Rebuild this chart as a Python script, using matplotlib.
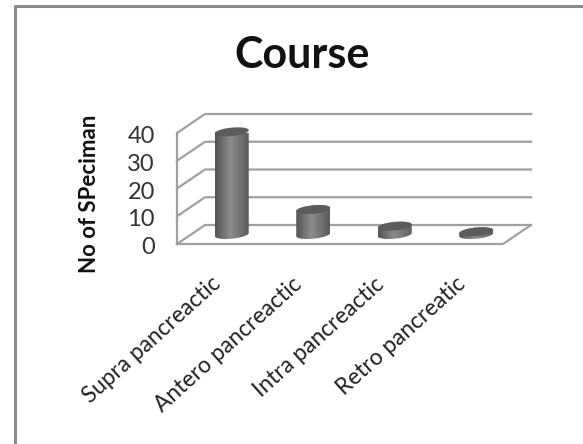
import numpy as np
import matplotlib
matplotlib.use('Agg')
import matplotlib.pyplot as plt
from matplotlib.patches import Polygon
from matplotlib.transforms import ScaledTranslation

categorias = ['Supra pancreactic', 'Antero pancreactic', 'Intra pancreactic', 'Retro pancreatic']
valores = [37, 9, 3, 1]
ticks_y = [0, 10, 20, 30, 40]

W, H = 583, 444
# parede frontal em pixels
esq, dir_, topo, base = 177, 503, 133, 244
# deslocamento da profundidade em unidades dos dados
dx = 28 / (dir_ - esq) * 4
dy = 19 / (base - topo) * 40

cor_grade = '#a0a0a0'

plt.rcParams['font.family'] = ['Lato', 'DejaVu Sans']
fig = plt.figure(figsize=(W / 100, H / 100), dpi=100)

# borda externa da figura (so esquerda e topo)
fig.add_artist(plt.Line2D([15 / W, 15 / W, 1], [0, 1 - 6 / H, 1 - 6 / H], color='#8c8c8c', lw=2.2))

ax = fig.add_axes([esq / W, 1 - base / H, (dir_ - esq) / W, (base - topo) / H])
ax.set_xlim(0, 4)
ax.set_ylim(0, 40)
ax.patch.set_visible(False)
for s in ax.spines.values():
    s.set_visible(False)

# grade da parede e do chao
for t in ticks_y:
    ax.plot([0, dx, 4 + dx], [t, t + dy, t + dy], color=cor_grade, lw=1.6, clip_on=False, zorder=1)
ax.plot([0, 0], [0, 40], color=cor_grade, lw=1.6, clip_on=False, zorder=1)
ax.plot([0, 4, 4 + dx], [0, 0, dy], color=cor_grade, lw=1.6, clip_on=False, zorder=1)

# cilindros
larg = 17 / (dir_ - esq) * 4
alt = 4.2 / (base - topo) * 40
incl = 1.6 / (base - topo) * 40
t = np.linspace(0, 2 * np.pi, 80)
for i, v in enumerate(valores):
    cx = i + 0.5 + dx / 2
    cy = dy / 2
    ex = larg * np.cos(t)
    ey = alt * np.sin(t) + incl * np.cos(t)
    # contorno: elipse de baixo, elipse de cima, e os lados
    baixo = t[(t >= np.pi) & (t <= 2 * np.pi)]
    xb = cx + larg * np.cos(baixo)
    yb = cy + alt * np.sin(baixo) + incl * np.cos(baixo)
    cima = t[t <= np.pi]
    xc = cx + larg * np.cos(cima)
    yc = cy + v + alt * np.sin(cima) + incl * np.cos(cima)
    corpo = Polygon(np.column_stack([np.r_[xb, xc], np.r_[yb, yc]]), closed=True,
                    transform=ax.transData, facecolor='none', edgecolor='none')
    ax.add_patch(corpo)
    grad = np.interp(np.linspace(0, 1, 60), [0, 0.45, 1], [0.33, 0.55, 0.36])[None, :]
    im = ax.imshow(grad, cmap='gray', vmin=0, vmax=1, aspect='auto', zorder=3,
                   extent=[cx - larg, cx + larg, cy - alt * 2, cy + v + alt * 2])
    im.set_clip_path(corpo)
    ax.fill(cx + ex, cy + v + ey, color='#5c5c5c', lw=0, zorder=4, clip_on=False)
# imshow mexe nos limites
ax.set_xlim(0, 4)
ax.set_ylim(0, 40)

ax.set_yticks(ticks_y)
ax.set_yticklabels([str(x) for x in ticks_y], fontsize=17, color='#333333')
ax.tick_params(axis='y', length=0, pad=16)
desce = ScaledTranslation(0, -1.5 / 100, fig.dpi_scale_trans)
for lab in ax.get_yticklabels():
    lab.set_transform(lab.get_transform() + desce)

ax.set_xticks(np.arange(4) + 0.5)
ax.set_xticklabels(categorias, rotation=42, ha='right', rotation_mode='anchor', fontsize=16.3, color='#222222')
ax.tick_params(axis='x', length=0, pad=21)
recua = ScaledTranslation(-7 / 100, 0, fig.dpi_scale_trans)
for lab in ax.get_xticklabels():
    lab.set_transform(lab.get_transform() + recua)

fig.text(302 / W, 1 - 55 / H, 'Course', ha='center', va='center', fontsize=31, fontweight='bold', color='#111111')
fig.text(90 / W, 1 - 194 / H, 'No of SPeciman', rotation=90, ha='center', va='center', fontsize=16, fontweight='bold', color='#111111')

fig.savefig('out.png', dpi=100)
